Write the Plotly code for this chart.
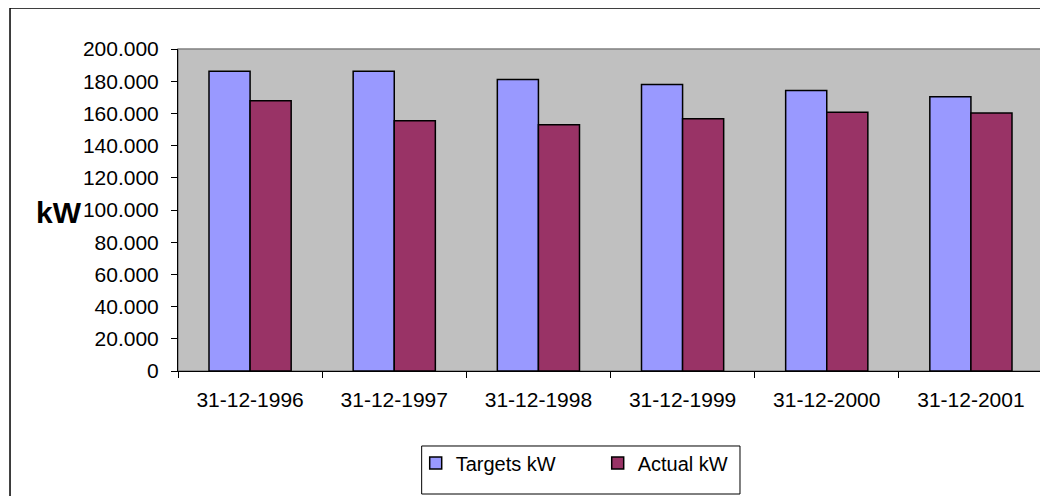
import plotly.graph_objects as go

# data (kW)
dates = ['31-12-1996', '31-12-1997', '31-12-1998', '31-12-1999', '31-12-2000', '31-12-2001']
targets_kw = [186200, 186200, 181000, 177900, 174200, 170300]
actual_kw = [167800, 155500, 153000, 156600, 160700, 160300]

colors = {
    'targets': '#9999FF',
    'actual': '#993366',
    'plot_bg': '#C0C0C0',
}

fig = go.Figure()
fig.add_trace(go.Bar(
    x=dates, y=targets_kw, name='Targets kW',
    marker=dict(color=colors['targets'], line=dict(color='black', width=1.5)),
))
fig.add_trace(go.Bar(
    x=dates, y=actual_kw, name='Actual kW',
    marker=dict(color=colors['actual'], line=dict(color='black', width=1.5)),
))

# page body has an 8px margin, so the figure is sized/offset for that
fig.update_layout(
    width=1040, height=488,
    margin=dict(l=170, r=5, t=41, b=125),
    paper_bgcolor='white',
    plot_bgcolor=colors['plot_bg'],
    font=dict(family='Liberation Sans, Arial', size=21, color='black'),
    separators=',.',
    barmode='group',
    bargap=0.43,
    bargroupgap=0,
    showlegend=True,
    legend=dict(
        orientation='h', x=0.2748, y=-0.2857, xanchor='left', yanchor='middle',
        borderwidth=0, bgcolor='rgba(0,0,0,0)',
        font=dict(size=20), entrywidth=137, entrywidthmode='pixels',
        traceorder='normal',
    ),
)

fig.update_yaxes(
    range=[0, 200000], dtick=20000, tickformat=',d',
    showgrid=False, zeroline=False,
    showline=True, linecolor='black', linewidth=1,
    ticks='outside', ticklen=6, tickcolor='black',
    ticklabelstandoff=8,
)
fig.update_xaxes(
    showgrid=False, showline=True, linecolor='black', linewidth=1,
    ticks='outside', ticklen=6, tickcolor='black', tickson='boundaries',
    ticklabelstandoff=10,
)

# plot area border (gray, like the Excel chart)
fig.add_shape(type='rect', xref='paper', yref='paper', x0=0, y0=0, x1=1, y1=1,
              line=dict(color='#808080', width=1.5), layer='below')
# chart outer border (clipped at right/bottom)
fig.add_shape(type='rect', xref='paper', yref='paper', x0=-0.1942, y0=-0.5, x1=1.2, y1=1.1273,
              line=dict(color='black', width=1.5))
# legend box
fig.add_shape(type='rect', xref='paper', yref='paper', x0=0.2817, y0=-0.382, x1=0.6497, y1=-0.2329,
              line=dict(color='black', width=1), fillcolor='white', layer='below')

fig.add_annotation(
    text='<b>kW</b>', xref='paper', yref='paper', x=-0.1665, y=0.4907,
    xanchor='left', yanchor='middle', showarrow=False,
    font=dict(size=30, color='black'),
)

fig.write_html('out.html')
